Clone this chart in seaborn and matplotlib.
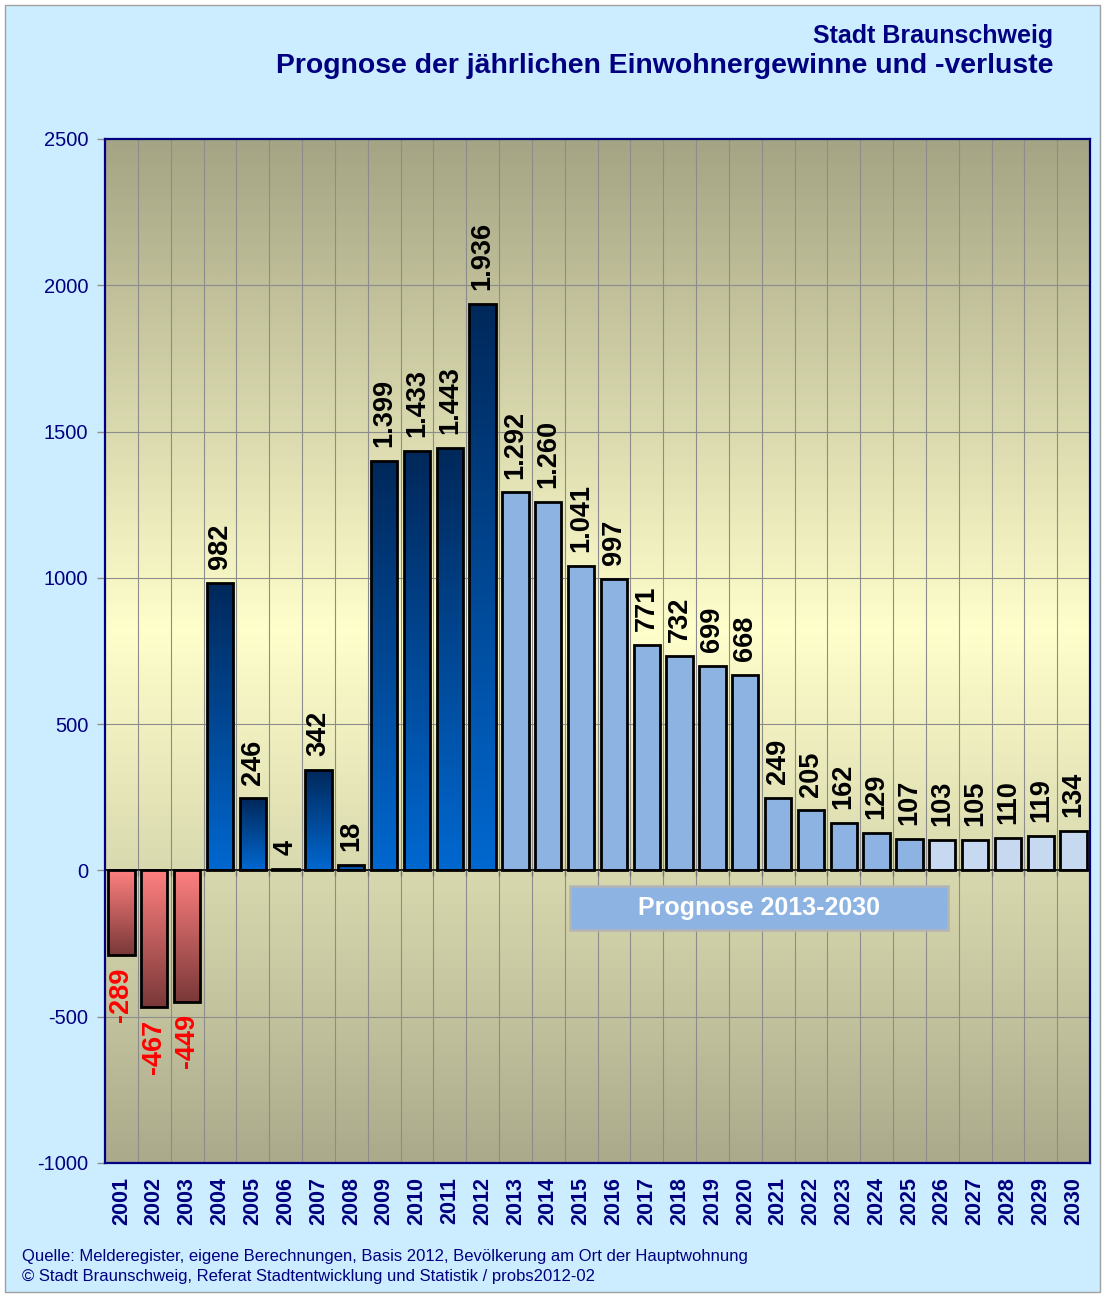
import numpy as np
import pandas as pd
import matplotlib
matplotlib.use("Agg")
import matplotlib.pyplot as plt
import seaborn as sns
from matplotlib.colors import LinearSegmentedColormap
from matplotlib.patches import Rectangle

# ---------------- data ----------------
years = [str(y) for y in range(2001, 2031)]
values = [-289, -467, -449, 982, 246, 4, 342, 18, 1399, 1433, 1443, 1936,
          1292, 1260, 1041, 997, 771, 732, 699, 668, 249, 205, 162, 129,
          107, 103, 105, 110, 119, 134]
y_ticks = [-1000, -500, 0, 500, 1000, 1500, 2000, 2500]
title1 = "Stadt Braunschweig"
title2 = "Prognose der jährlichen Einwohnergewinne und -verluste"
prog_label = "Prognose 2013-2030"
foot1 = "Quelle: Melderegister, eigene Berechnungen, Basis 2012, Bevölkerung am Ort der Hauptwohnung"
foot2 = "© Stadt Braunschweig, Referat Stadtentwicklung und Statistik / probs2012-02"

# ---------------- style ----------------
sns.set_theme(style="white")
plt.rcParams['font.family'] = ['Liberation Sans', 'DejaVu Sans']
NAVY = "#000080"

W, H = 1102, 1294
fig = plt.figure(figsize=(W / 100, H / 100), dpi=100)
fig.patch.set_facecolor("white")
# outer light-blue frame
fig.patches.append(Rectangle((5 / W, 2 / H), 1095 / W, 1287 / H, transform=fig.transFigure,
                             facecolor="#CCECFF", edgecolor="#A0A0A0", linewidth=1.0, zorder=-10))

ax = fig.add_axes([105 / W, (H - 1163) / H, 985 / W, 1024 / H])

def color_for(i):
    if i < 3:
        return "#FF8080"
    if i < 12:
        return "#0060C0"
    if i < 25:
        return "#8DB3E2"
    return "#C6D9F1"

palette = [color_for(i) for i in range(len(years))]
df = pd.DataFrame({"Jahr": years, "Wert": values})
sns.barplot(data=df, x="Jahr", y="Wert", hue="Jahr", palette=palette, legend=False,
            saturation=1, width=0.8, edgecolor="black", linewidth=2.0, ax=ax, zorder=3)

# background gradient
bg_cmap = LinearSegmentedColormap.from_list("bg", [(0.0, "#ABAB8C"), (0.52, "#FFFFCC"), (1.0, "#A5A484")])
grad = np.linspace(0, 1, 256).reshape(-1, 1)
ax.imshow(grad, cmap=bg_cmap, aspect="auto", extent=[0, 1, 0, 1], transform=ax.transAxes,
          origin="lower", zorder=0, interpolation="bicubic")

# gradient bars
pos_cmap = LinearSegmentedColormap.from_list("pos", ["#0068D0", "#00285A"])
neg_cmap = LinearSegmentedColormap.from_list("neg", ["#7A3838", "#FF8080"])
bars = [c[0] for c in ax.containers]
for i, p in enumerate(bars):
    if i >= 12:
        continue
    x0, y0 = p.get_x(), p.get_y()
    w, h = p.get_width(), p.get_height()
    ylo, yhi = min(y0, y0 + h), max(y0, y0 + h)
    cmap = neg_cmap if values[i] < 0 else pos_cmap
    im = ax.imshow(grad, cmap=cmap, aspect="auto", extent=[x0, x0 + w, ylo, yhi],
                   origin="lower", zorder=2.9, interpolation="bicubic")
    im.set_clip_path(p)
    p.set_facecolor("none")

# value labels
for i, (p, v) in enumerate(zip(bars, values)):
    xc = p.get_x() + p.get_width() / 2
    lab = f"{v:,}".replace(",", ".")
    if v >= 0:
        ax.annotate(lab, (xc, v), xytext=(0, 10), textcoords="offset points", rotation=90,
                    ha="center", va="bottom", fontsize=19.5, fontweight="bold", color="black", zorder=5)
    else:
        ax.annotate(lab, (xc, v), xytext=(0, -9), textcoords="offset points", rotation=90,
                    ha="center", va="top", fontsize=19.5, fontweight="bold", color="#FF0000", zorder=5)

# axes
ax.set_xlim(-0.5, len(years) - 0.5)
ax.set_ylim(-1000, 2500)
ax.set_yticks(y_ticks)
ax.set_yticklabels([str(t) for t in y_ticks], color=NAVY, fontsize=14.5)
ax.tick_params(axis="y", left=True, length=6, width=1, color="#909090", pad=6)
ax.set_xticks(range(len(years)))
ax.set_xticklabels(years, rotation=90, fontsize=15.5, fontweight="bold", color=NAVY)
ax.tick_params(axis="x", bottom=False, length=0, pad=10)
ax.set_xticks(np.arange(0.5, len(years) - 1, 1.0), minor=True)
ax.tick_params(axis="x", which="minor", bottom=False, length=0)
ax.grid(axis="y", which="major", color="#8C8C8C", linewidth=0.8, zorder=1)
ax.grid(axis="x", which="minor", color="#8C8C8C", linewidth=0.8, zorder=1)
ax.grid(axis="x", which="major", visible=False)
ax.set_axisbelow(True)
ax.set_xlabel("")
ax.set_ylabel("")
for s in ax.spines.values():
    s.set_visible(True)
    s.set_color(NAVY)
    s.set_linewidth(1.6)
    s.set_zorder(6)

# zero line with category ticks
ax.axhline(0, color="black", linewidth=1.2, zorder=4)
ax.vlines(np.arange(0.5, len(years) - 1, 1.0), -20, 0, color="#707070", linewidth=1, zorder=4)

# Prognose box
ax.add_patch(Rectangle((0.472, 0.2275), 0.384, 0.043, transform=ax.transAxes,
                       facecolor="#8DB3E2", edgecolor="#B4B4B4", linewidth=1.8, zorder=6))
ax.text(0.664, 0.249, prog_label, transform=ax.transAxes, ha="center", va="center",
        fontsize=18, fontweight="bold", color="white", zorder=7)

# titles and footer
fig.text(1053 / W, 1 - 36 / H, title1, ha="right", va="center", fontsize=18,
         fontweight="bold", color=NAVY)
fig.text(1053 / W, 1 - 66 / H, title2, ha="right", va="center", fontsize=20.4,
         fontweight="bold", color=NAVY)
fig.text(22 / W, 1 - 1256 / H, foot1, ha="left", va="center", fontsize=12, color=NAVY)
fig.text(22 / W, 1 - 1276 / H, foot2, ha="left", va="center", fontsize=12, color=NAVY)

fig.savefig("out.png", dpi=100)
